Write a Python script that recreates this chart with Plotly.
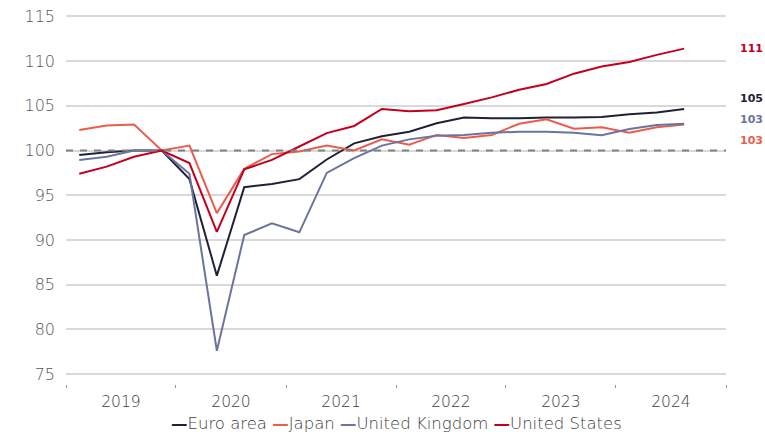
import pandas as pd
import plotly.graph_objects as go

# ---- data (index, 2019Q4 = 100), quarterly 2019Q1..2024Q3 ----
quarters = pd.period_range("2019Q1", "2024Q3", freq="Q")
x_dates = [(q.start_time + (q.end_time - q.start_time) / 2).strftime("%Y-%m-%d") for q in quarters]

euro_area = [99.5, 99.8, 100.0, 100.0, 96.8, 86.0, 95.9, 96.25, 96.8, 99.0, 100.8, 101.6,
             102.1, 103.05, 103.7, 103.6, 103.6, 103.7, 103.7, 103.75, 104.05, 104.25, 104.65]
japan = [102.3, 102.8, 102.9, 100.0, 100.55, 93.0, 97.95, 99.6, 99.9, 100.55, 100.0, 101.25,
         100.65, 101.75, 101.4, 101.75, 103.0, 103.5, 102.45, 102.6, 102.0, 102.6, 102.9]
united_kingdom = [98.95, 99.3, 100.0, 100.0, 97.4, 77.6, 90.55, 91.85, 90.85, 97.5, 99.15, 100.55,
                  101.25, 101.65, 101.75, 102.0, 102.1, 102.1, 102.0, 101.7, 102.4, 102.85, 103.0]
united_states = [97.4, 98.2, 99.3, 100.0, 98.6, 90.9, 97.9, 98.95, 100.45, 101.95, 102.75, 104.65,
                 104.4, 104.5, 105.2, 105.95, 106.8, 107.45, 108.6, 109.4, 109.9, 110.7, 111.4]

series_names = ["Euro area", "Japan", "United Kingdom", "United States"]
series_values = [euro_area, japan, united_kingdom, united_states]
series_colors = ["#1f2236", "#ec5c4b", "#6b74a0", "#c3001f"]
y_ticks = [75, 80, 85, 90, 95, 100, 105, 110, 115]

FONT = "DejaVu Sans"

fig = go.Figure()
for name, vals, col in zip(series_names, series_values, series_colors):
    fig.add_trace(go.Scatter(x=x_dates, y=vals, name=name, mode="lines",
                             line=dict(color=col, width=2), showlegend=False))

# reference line at 100
fig.add_shape(type="line", xref="paper", x0=0, x1=1, yref="y", y0=100, y1=100,
              line=dict(color="#808080", width=2, dash="7px,7px"))

# end-value labels (offset vertically to avoid overlap, as in the reference)
label_y = [105.8, 101.1, 103.45, 111.4]
for vals, col, ly in zip(series_values, series_colors, label_y):
    fig.add_annotation(xref="paper", x=1, xshift=12, xanchor="left", yref="y", y=ly,
                       text=f"<b>{round(vals[-1])}</b>", showarrow=False,
                       font=dict(family=FONT, size=11, color=col))

# legend as text
legend_text = "".join(
    f"<span style='color:{c}'><b>—</b></span>{n} " for n, c in zip(series_names, series_colors)
).strip()
fig.add_annotation(xref="paper", yref="paper", x=0.5015, y=-0.105, xanchor="center",
                   yanchor="middle", text=legend_text, showarrow=False,
                   font=dict(family=FONT, size=16.5, color="#404040", weight=300))

fig.update_layout(
    width=765, height=432,
    margin=dict(l=66, r=39, t=12, b=48),
    paper_bgcolor="white", plot_bgcolor="white",
    font=dict(family=FONT, size=15, color="#505050"),
)
fig.update_xaxes(type="date", range=["2019-01-01", "2025-01-01"], dtick="M12",
                 tick0="2019-01-01", tickformat="%Y", ticklabelmode="period",
                 ticks="outside", ticklen=3, tickwidth=1, tickcolor="#999999",
                 showgrid=False, showline=False, zeroline=False, automargin=False,
                 tickfont=dict(family=FONT, size=15.5, color="#404040", weight=300))
fig.update_yaxes(range=[73.88, 115.5], tickvals=y_ticks, showgrid=True,
                 gridcolor="#d9d9d9", gridwidth=1.5, zeroline=False, showline=False,
                 ticklabelstandoff=10, automargin=False,
                 tickfont=dict(family=FONT, size=16, color="#555555", weight=300))

fig.write_html("out.html", config={"displayModeBar": False},
               post_script="document.body.style.margin='0';")
